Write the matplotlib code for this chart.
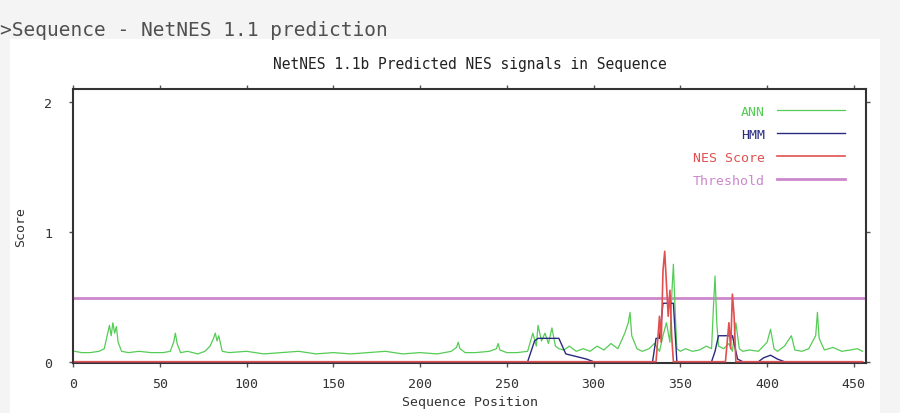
import matplotlib
matplotlib.use("Agg")
import matplotlib.pyplot as plt
from matplotlib.patches import Rectangle

# ---- data
ann_pos = [1, 5, 10, 15, 18, 20, 21, 22, 23, 24, 25, 26, 28, 32, 38, 45, 52, 56, 58, 59,
           60, 62, 66, 72, 76, 79, 81, 82, 83, 84, 86, 90, 100, 110, 120, 130, 140, 150, 160, 170,
           180, 190, 200, 210, 218, 221, 222, 223, 226, 232, 240, 244, 245, 246, 250, 256, 262, 265, 267, 268,
           270, 272, 274, 276, 278, 280, 283, 286, 290, 294, 298, 302, 306, 310, 314, 318, 320, 321, 322, 325,
           328, 332, 335, 338, 340, 342, 344, 345, 346, 347, 348, 350, 353, 357, 361, 365, 368, 369, 370, 371,
           372, 375, 378, 380, 382, 384, 386, 390, 395, 400, 402, 404, 406, 410, 414, 416, 420, 424, 428, 429,
           430, 433, 438, 443, 448, 452, 455]
ann_score = [0.08, 0.07, 0.07, 0.08, 0.10, 0.22, 0.28, 0.20, 0.30, 0.22, 0.27, 0.15, 0.08, 0.07, 0.08, 0.07, 0.07, 0.08, 0.15, 0.22,
             0.14, 0.07, 0.08, 0.06, 0.08, 0.12, 0.18, 0.22, 0.16, 0.20, 0.08, 0.07, 0.08, 0.06, 0.07, 0.08, 0.06, 0.07, 0.06, 0.07,
             0.08, 0.06, 0.07, 0.06, 0.08, 0.11, 0.15, 0.10, 0.07, 0.07, 0.08, 0.10, 0.14, 0.09, 0.07, 0.07, 0.08, 0.22, 0.12, 0.28,
             0.16, 0.22, 0.14, 0.26, 0.12, 0.10, 0.09, 0.12, 0.08, 0.10, 0.08, 0.12, 0.09, 0.14, 0.10, 0.22, 0.30, 0.38, 0.20, 0.10,
             0.08, 0.10, 0.14, 0.08, 0.20, 0.30, 0.15, 0.50, 0.75, 0.40, 0.10, 0.08, 0.10, 0.08, 0.09, 0.12, 0.10, 0.40, 0.66, 0.30,
             0.12, 0.10, 0.14, 0.08, 0.30, 0.10, 0.08, 0.09, 0.08, 0.15, 0.25, 0.10, 0.08, 0.12, 0.20, 0.09, 0.08, 0.10, 0.20, 0.38,
             0.18, 0.09, 0.11, 0.08, 0.09, 0.10, 0.08]

hmm_pos = [1, 262, 264, 266, 268, 280, 284, 290, 296, 300, 334, 336, 338, 340, 346, 348,
           368, 370, 372, 380, 383, 386, 395, 398, 402, 406, 410, 455]
hmm_score = [0.0, 0.0, 0.08, 0.16, 0.18, 0.18, 0.06, 0.04, 0.02, 0.0, 0.0, 0.18, 0.18, 0.45, 0.45, 0.0,
             0.0, 0.08, 0.20, 0.20, 0.02, 0.0, 0.0, 0.03, 0.05, 0.02, 0.0, 0.0]

nes_pos = [1, 336, 338, 339, 340, 341, 342, 343, 344, 345, 346, 347, 376, 378, 379, 380, 381, 382, 455]
nes_score = [0, 0, 0.35, 0.15, 0.70, 0.85, 0.60, 0.35, 0.55, 0.20, 0, 0, 0, 0.30, 0.10, 0.52, 0.35, 0, 0]

threshold = 0.49
x_ticks = [0, 50, 100, 150, 200, 250, 300, 350, 400, 450]
y_ticks = [0, 1, 2]

MONO = "DejaVu Sans Mono"
FS = 9.5

fig = plt.figure(figsize=(9, 4.14), dpi=100, facecolor="#f4f4f4")
panel = Rectangle((10 / 900, 0), 870 / 900, 1 - 40 / 414, transform=fig.transFigure,
                  facecolor="white", edgecolor="none", zorder=-10)
fig.add_artist(panel)
fig.text(0.0, 1 - 30 / 414, ">Sequence - NetNES 1.1 prediction", family=MONO, fontsize=14,
         color="#505050", va="center", ha="left")

ax = fig.add_axes([73 / 900, 50 / 414, 793 / 900, 274 / 414])
ax.set_facecolor("white")

ax.axhline(threshold, color="#cc88cc", lw=2, label="Threshold", zorder=1)
ax.plot(ann_pos, ann_score, color="#55cc55", lw=0.9, label="ANN", zorder=2)
ax.plot(hmm_pos, hmm_score, color="#2a2a80", lw=1.0, label="HMM", zorder=3)
ax.plot(nes_pos, nes_score, color="#e05050", lw=1.2, label="NES Score", zorder=4)

ax.set_xlim(0, 457)
ax.set_ylim(-0.01, 2.10)
ax.set_xticks(x_ticks)
ax.set_yticks(y_ticks)
ax.tick_params(top=True, right=True, direction="out", length=3, width=1, color="#555555",
               labelsize=FS, labelcolor="#333333")
ax.tick_params(axis="x", pad=7)
ax.tick_params(axis="y", pad=12)
for lab in ax.get_xticklabels() + ax.get_yticklabels():
    lab.set_family(MONO)
for sp in ax.spines.values():
    sp.set_color("#333333")
    sp.set_linewidth(1.5)

ax.set_title("NetNES 1.1b Predicted NES signals in Sequence", family=MONO, fontsize=10.5,
             color="#222222", pad=15)
ax.set_xlabel("Sequence Position", family=MONO, fontsize=FS, color="#333333", labelpad=4)
ax.set_ylabel("Score", family=MONO, fontsize=FS, color="#333333", labelpad=12)

handles, labels = ax.get_legend_handles_labels()
order = [1, 2, 3, 0]
leg = ax.legend([handles[i] for i in order], [labels[i] for i in order], loc="upper right",
                markerfirst=False, frameon=False, prop={"family": MONO, "size": FS},
                handlelength=5.2, handletextpad=0.9, labelspacing=0.75,
                bbox_to_anchor=(0.989, 0.985))
for txt, h in zip(leg.get_texts(), leg.legend_handles):
    txt.set_color(h.get_color())

fig.savefig("out.png", dpi=100, facecolor=fig.get_facecolor())
